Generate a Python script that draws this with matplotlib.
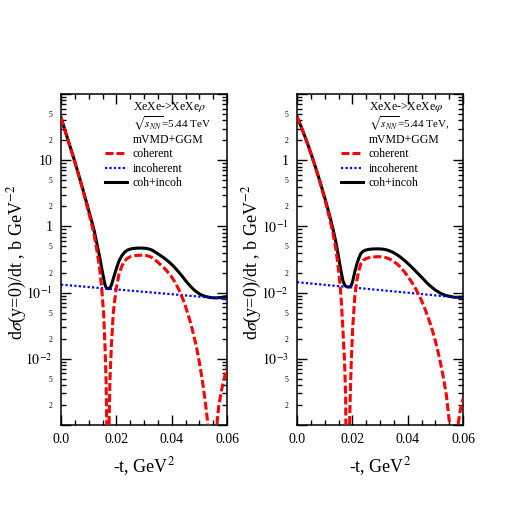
import numpy as np
import matplotlib
matplotlib.use("Agg")
import matplotlib.pyplot as plt
from matplotlib.ticker import FixedLocator, FuncFormatter
from matplotlib.lines import Line2D

plt.rcParams["font.family"] = ["Liberation Serif", "DejaVu Serif"]
plt.rcParams["mathtext.fontset"] = "stix"

# ------------------------------------------------------------
# DATA
# ------------------------------------------------------------
# left panel: rho
t_rho = [0.0, 0.001, 0.002, 0.003, 0.004, 0.005, 0.006, 0.007, 0.008, 0.009,
         0.010, 0.011, 0.012, 0.013, 0.014,
         0.0147, 0.0154, 0.0159, 0.0163, 0.0166, 0.0169,
         0.01735, 0.0177, 0.0182, 0.0189, 0.0199,
         0.021, 0.022, 0.023, 0.024, 0.025, 0.026, 0.027, 0.028, 0.029, 0.030,
         0.031, 0.032, 0.033, 0.034, 0.035, 0.036, 0.037, 0.038, 0.039, 0.040,
         0.041, 0.042, 0.043, 0.044, 0.045, 0.046, 0.047, 0.048, 0.049, 0.050,
         0.051, 0.052, 0.053,
         0.0537, 0.0548, 0.0559, 0.0565, 0.057, 0.058, 0.059, 0.060]
coh_rho = [44.0, 32.3, 23.7, 17.4, 12.8, 9.35, 6.70, 4.79, 3.39, 2.36,
           1.63, 1.12, 0.741, 0.427, 0.224,
           0.118, 0.0495, 0.0155, 0.0045, 0.00063, 1e-8,
           0.00095, 0.0049, 0.0155, 0.0495, 0.111,
           0.193, 0.251, 0.299, 0.330, 0.347, 0.357, 0.363, 0.366, 0.367, 0.366,
           0.361, 0.352, 0.336, 0.311, 0.288, 0.264, 0.242, 0.219, 0.195, 0.172,
           0.148, 0.124, 0.102, 0.081, 0.0617, 0.0457, 0.0331, 0.0224, 0.0148, 0.0089,
           0.0050, 0.0025, 0.00112,
           0.0005, 1e-8, 0.0005, 0.0012, 0.0019, 0.0033, 0.0051, 0.0074]
incoh_rho = [0.1320, 0.1309, 0.1298, 0.1287, 0.1277, 0.1266, 0.1255, 0.1245, 0.1235, 0.1224,
             0.1214, 0.1204, 0.1194, 0.1184, 0.1174,
             0.1167, 0.1161, 0.1156, 0.1152, 0.1149, 0.1146,
             0.1142, 0.1139, 0.1134, 0.1127, 0.1118,
             0.1107, 0.1098, 0.1089, 0.1080, 0.1071, 0.1062, 0.1054, 0.1045, 0.1036, 0.1028,
             0.1019, 0.1010, 0.1002, 0.0994, 0.0985, 0.0977, 0.0969, 0.0961, 0.0953, 0.0945,
             0.0937, 0.0929, 0.0922, 0.0914, 0.0906, 0.0899, 0.0891, 0.0884, 0.0877, 0.0869,
             0.0862, 0.0855, 0.0848,
             0.0843, 0.0835, 0.0828, 0.0823, 0.0820, 0.0813, 0.0806, 0.0799]
tot_rho = [44.13, 32.43, 23.83, 17.53, 12.93, 9.48, 6.83, 4.91, 3.51, 2.48,
           1.75, 1.24, 0.860, 0.545, 0.341,
           0.235, 0.166, 0.131, 0.120, 0.1155, 0.1146,
           0.1152, 0.1188, 0.1289, 0.1622, 0.2228,
           0.3037, 0.3608, 0.4079, 0.438, 0.4541, 0.4632, 0.4684, 0.4705, 0.4706, 0.4688,
           0.4629, 0.453, 0.4362, 0.4104, 0.3865, 0.3617, 0.3389, 0.3151, 0.2903, 0.2665,
           0.2417, 0.2169, 0.1942, 0.1724, 0.1523, 0.1356, 0.1222, 0.1108, 0.1025, 0.0958,
           0.0912, 0.088, 0.0859,
           0.0848, 0.0835, 0.0833, 0.0835, 0.0839, 0.0846, 0.0857, 0.0873]

# right panel: phi
t_phi = [0.0, 0.001, 0.002, 0.003, 0.004, 0.005, 0.006, 0.007, 0.008, 0.009,
         0.010, 0.011, 0.012, 0.013, 0.014,
         0.0147, 0.0153, 0.0159, 0.0166, 0.0172, 0.0176, 0.0184,
         0.0190, 0.01924, 0.0196, 0.0201, 0.0209, 0.0217, 0.0224, 0.0231,
         0.024, 0.025, 0.026, 0.027, 0.028, 0.029, 0.030, 0.031, 0.032, 0.033,
         0.034, 0.035, 0.036, 0.037, 0.038, 0.039, 0.040, 0.041, 0.042, 0.043,
         0.044, 0.045, 0.046, 0.047, 0.048, 0.049, 0.050, 0.051, 0.052, 0.053, 0.054,
         0.0552, 0.0568, 0.0582, 0.059, 0.060]
coh_phi = [4.52, 3.59, 2.82, 2.19, 1.68, 1.27, 0.951, 0.700, 0.511, 0.367,
           0.260, 0.180, 0.122, 0.0785, 0.0468,
           0.0288, 0.0170, 0.00883, 0.00277, 0.00087, 0.00025, 1e-9,
           0.0001, 0.000272, 0.00087, 0.00277, 0.00883, 0.0158, 0.0219, 0.0275,
           0.0309, 0.0327, 0.0337, 0.0343, 0.0346, 0.0348, 0.0348, 0.0345, 0.0339, 0.0328,
           0.0313, 0.0295, 0.0274, 0.0251, 0.0226, 0.0202, 0.0177, 0.0154, 0.0132, 0.0112,
           0.00933, 0.00759, 0.00603, 0.00468, 0.00355, 0.00263, 0.00186, 0.00126, 0.00081, 0.0005, 0.00028,
           0.0001, 1e-9, 0.0001, 0.000166, 0.00025]
incoh_phi = [0.01436, 0.01423, 0.01410, 0.01397, 0.01384, 0.01372, 0.01359, 0.01347, 0.01335, 0.01322,
             0.01310, 0.01298, 0.01287, 0.01275, 0.01263,
             0.01255, 0.01248, 0.01241, 0.01233, 0.01226, 0.01222, 0.01213,
             0.01207, 0.01204, 0.01200, 0.01194, 0.01186, 0.01177, 0.01169, 0.01162,
             0.01153, 0.01142, 0.01132, 0.01121, 0.01111, 0.01101, 0.01091, 0.01081, 0.01071, 0.01061,
             0.01052, 0.01042, 0.01032, 0.01023, 0.01014, 0.01004, 0.00995, 0.00986, 0.00977, 0.00968,
             0.00960, 0.00951, 0.00942, 0.00933, 0.00925, 0.00916, 0.00908, 0.00900, 0.00892, 0.00883, 0.00875,
             0.00866, 0.00853, 0.00843, 0.00836, 0.00829]
tot_phi = [4.534, 3.604, 2.834, 2.204, 1.694, 1.284, 0.965, 0.713, 0.524, 0.380,
           0.273, 0.193, 0.1349, 0.0913, 0.0594,
           0.0414, 0.0295, 0.0212, 0.0151, 0.0131, 0.0125, 0.0121,
           0.0122, 0.0123, 0.0129, 0.0147, 0.0207, 0.0276, 0.0336, 0.0391,
           0.0424, 0.0441, 0.0450, 0.0455, 0.0457, 0.0458, 0.0457, 0.0453, 0.0446, 0.0434,
           0.0418, 0.0399, 0.0377, 0.0353, 0.0327, 0.0302, 0.0277, 0.0253, 0.0230, 0.0209,
           0.0189, 0.0171, 0.0155, 0.0140, 0.0128, 0.0118, 0.0109, 0.0103, 0.0097, 0.0093, 0.0090,
           0.0088, 0.0085, 0.0085, 0.0085, 0.0085]

x_major = [0.0, 0.02, 0.04, 0.06]
x_major_labels = ["0.0", "0.02", "0.04", "0.06"]

rho_ylim = (1e-3, 1e2)
rho_major = [1e-3, 1e-2, 1e-1, 1, 10, 100]
rho_major_labels = ["", "$10^{-2}$", "$10^{-1}$", "1", "10", ""]

phi_ylim = (1e-4, 1e1)
phi_major = [1e-4, 1e-3, 1e-2, 1e-1, 1, 10]
phi_major_labels = ["", "$10^{-3}$", "$10^{-2}$", "$10^{-1}$", "1", ""]

rho_header = ["XeXe->XeXe$\\rho$", "$\\sqrt{s_{NN}}$=5.44 TeV", "mVMD+GGM"]
phi_header = ["XeXe->XeXe$\\varphi$", "$\\sqrt{s_{NN}}$=5.44 TeV,", "mVMD+GGM"]
legend_labels = ["coherent", "incoherent", "coh+incoh"]

YLABEL = "d$\\sigma$(y=0)/dt , b GeV$^{-2}$"
XLABEL = "-t, GeV$^{2}$"

RED = "#ff0000"
BLUE = "#0000ff"
DASH = (0, (2.6, 1.0))
DOT = (0, (1, 1))


def setup_axis(ax, ylim, majors, major_labels):
    ax.set_xlim(0, 0.06)
    ax.set_yscale("log")
    ax.set_ylim(*ylim)

    ax.xaxis.set_major_locator(FixedLocator(x_major))
    ax.set_xticklabels(x_major_labels)
    ax.xaxis.set_minor_locator(FixedLocator(np.arange(0, 0.0601, 0.005)))

    ax.yaxis.set_major_locator(FixedLocator(majors))
    ax.set_yticklabels(major_labels)
    minors = [d * k for d in majors[:-1] for k in range(2, 10)]
    ax.yaxis.set_minor_locator(FixedLocator(minors))

    def minor_fmt(v, pos):
        m = v / 10 ** np.floor(np.log10(v) + 1e-9)
        if abs(m - 2) < 1e-6:
            return "2"
        if abs(m - 5) < 1e-6:
            return "5"
        return ""
    ax.yaxis.set_minor_formatter(FuncFormatter(minor_fmt))

    ax.tick_params(which="both", direction="in", top=True, right=True, width=1.0)
    ax.tick_params(which="major", length=7, labelsize=10, pad=6)
    ax.tick_params(which="minor", length=3.5, labelsize=5.5, pad=6)
    for s in ax.spines.values():
        s.set_linewidth(1.1)


def draw_panel(ax, t, coh, incoh, tot, header):
    ax.plot(t, coh, color=RED, lw=2.2, linestyle=DASH, zorder=3)
    ax.plot(t, incoh, color=BLUE, lw=1.6, linestyle=DOT, zorder=2)
    ax.plot(t, tot, color="black", lw=2.2, zorder=1)

    # header lines (the sqrt line a touch smaller so it clears its neighbours)
    for y, line, fs in zip([0.961, 0.911, 0.862], header, [8.5, 8.0, 8.5]):
        ax.text(0.435, y, line, transform=ax.transAxes,
                fontsize=fs, va="center", ha="left")

    handles = [
        Line2D([], [], color=RED, lw=2.2, linestyle=DASH),
        Line2D([], [], color=BLUE, lw=1.6, linestyle=DOT),
        Line2D([], [], color="black", lw=2.2),
    ]
    ax.legend(handles, legend_labels, loc="upper left", bbox_to_anchor=(0.265, 0.836),
              frameon=False, fontsize=8.5, handlelength=1.9, handletextpad=0.45,
              labelspacing=0.22, borderpad=0, borderaxespad=0)


fig = plt.figure(figsize=(5.22, 5.22), dpi=100)
ax1 = fig.add_axes([61 / 522, 97 / 522, 166 / 522, 331 / 522])
ax2 = fig.add_axes([297 / 522, 97 / 522, 166 / 522, 331 / 522])

setup_axis(ax1, rho_ylim, rho_major, rho_major_labels)
setup_axis(ax2, phi_ylim, phi_major, phi_major_labels)
draw_panel(ax1, t_rho, coh_rho, incoh_rho, tot_rho, rho_header)
draw_panel(ax2, t_phi, coh_phi, incoh_phi, tot_phi, phi_header)

fig.text(17 / 522, 1 - 262 / 522, YLABEL, rotation=90, ha="center", va="center", fontsize=13)
fig.text(252 / 522, 1 - 262 / 522, YLABEL, rotation=90, ha="center", va="center", fontsize=13)
fig.text(144 / 522, 1 - 467 / 522, XLABEL, ha="center", va="center", fontsize=13)
fig.text(380 / 522, 1 - 467 / 522, XLABEL, ha="center", va="center", fontsize=13)

fig.savefig("out.png", dpi=100)
